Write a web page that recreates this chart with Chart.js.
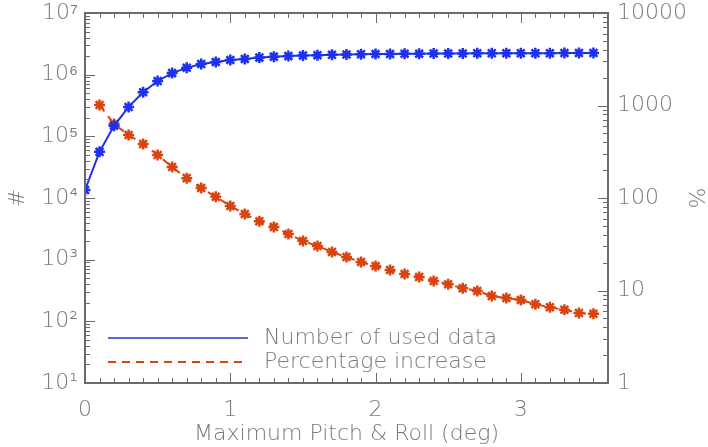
<!DOCTYPE html>
<html>
<head>
<meta charset="utf-8">
<script src="https://cdn.jsdelivr.net/npm/chart.js@4/dist/chart.umd.min.js"></script>
<style>
  body { margin: 0; background: #fff; }
</style>
</head>
<body>
<canvas id="myChart" width="708" height="447"></canvas>
<script>
// x-Werte (Maximum Pitch & Roll in deg)
const pitch = [0, 0.1, 0.2, 0.3, 0.4, 0.5, 0.6, 0.7, 0.8, 0.9, 1.0, 1.1, 1.2, 1.3, 1.4, 1.5, 1.6, 1.7,
  1.8, 1.9, 2.0, 2.1, 2.2, 2.3, 2.4, 2.5, 2.6, 2.7, 2.8, 2.9, 3.0, 3.1, 3.2, 3.3, 3.4, 3.5];
// Number of used data (linke Achse)
const usedData = [1.35e4, 5.6e4, 1.48e5, 3.0e5, 5.2e5, 7.9e5, 1.06e6, 1.29e6, 1.49e6, 1.61e6, 1.73e6,
  1.8e6, 1.89e6, 1.96e6, 2.0e6, 2.04e6, 2.07e6, 2.1e6, 2.12e6, 2.14e6, 2.16e6, 2.17e6, 2.18e6, 2.19e6,
  2.2e6, 2.21e6, 2.21e6, 2.22e6, 2.22e6, 2.22e6, 2.23e6, 2.23e6, 2.23e6, 2.24e6, 2.24e6, 2.24e6];
// Percentage increase (rechte Achse), ab 0.1
const pitchInc = pitch.slice(1);
const percentInc = [1010, 630, 480, 383, 292, 216, 164, 128, 103, 82, 67, 56, 48.5, 40.8, 34.3, 30.3,
  26.1, 23.0, 20.3, 18.4, 16.7, 15.1, 14.0, 12.7, 11.7, 10.6, 9.9, 8.7, 8.3, 7.9, 7.1, 6.6, 6.2, 5.7, 5.6];

const xTicks = [0, 1, 2, 3];
const leftTicks = [1e1, 1e2, 1e3, 1e4, 1e5, 1e6, 1e7];
const leftLabels = ["10¹", "10²", "10³", "10⁴", "10⁵", "10⁶", "10⁷"];
const rightTicks = [1, 10, 100, 1000, 10000];
const rightLabels = ["1", "10", "100", "1000", "10000"];

const blau = "#1c30ee";
const orange = "#d9430f";
const grau = "#7a7a7a";
const schrift = { family: "'DejaVu Sans', sans-serif", size: 22, weight: 200 };

// Rahmen und Striche nach innen (mit fillRect)
const rahmen = {
  id: "rahmen",
  afterDraw(chart) {
    const ctx = chart.ctx;
    const a = chart.chartArea;
    const sx = chart.scales.x, yl = chart.scales.yl, yr = chart.scales.yr;
    const L = Math.round(a.left), R = Math.round(a.right), T = Math.round(a.top), B = Math.round(a.bottom);
    ctx.save();
    ctx.globalAlpha = 1;
    ctx.globalCompositeOperation = "source-over";
    ctx.fillStyle = "#6a6a6a";
    for (let i = 0; i <= 36; i++) {
      const px = Math.round(sx.getPixelForValue(i / 10));
      const len = i % 10 == 0 ? 10 : 5;
      ctx.fillRect(px, B - len, 1, len);
      ctx.fillRect(px, T, 1, len);
    }
    for (let e = 1; e < 7; e++) {
      for (let m = 1; m < 10; m++) {
        const py = Math.round(yl.getPixelForValue(m * Math.pow(10, e)));
        const len = m == 1 ? 10 : 5;
        ctx.fillRect(L, py, len, 1);
      }
    }
    for (let e = 0; e < 4; e++) {
      for (let m = 1; m < 10; m++) {
        const py = Math.round(yr.getPixelForValue(m * Math.pow(10, e)));
        const len = m == 1 ? 10 : 5;
        ctx.fillRect(R - len, py, len, 1);
      }
    }
    ctx.fillRect(L - 1, T - 1, R - L + 2, 2);
    ctx.fillRect(L - 1, B - 1, R - L + 2, 2);
    ctx.fillRect(L - 1, T - 1, 2, B - T + 2);
    ctx.fillRect(R - 1, T - 1, 2, B - T + 2);

    // Legende
    ctx.fillStyle = "#5a6ad8";
    ctx.fillRect(108, 337, 140, 2);
    ctx.fillStyle = orange;
    for (let d = 108; d < 245; d += 14) ctx.fillRect(d, 361, 8, 2);
    ctx.fillStyle = grau;
    ctx.font = "200 22px 'DejaVu Sans', sans-serif";
    ctx.textBaseline = "middle";
    ctx.fillText("Number of used data", 264, 338);
    ctx.fillText("Percentage increase", 264, 362);
    ctx.restore();
  },
};

const lineChart = document.getElementById("myChart");
let myChart = new Chart(lineChart, {
  type: "line",
  data: {
    datasets: [
      {
        label: "Number of used data",
        data: pitch.map((p, i) => ({ x: p, y: usedData[i] })),
        yAxisID: "yl",
        borderColor: blau,
        backgroundColor: blau,
        borderWidth: 2,
        pointStyle: "star",
        pointRadius: 5.5,
        pointBorderWidth: 2.5,
        tension: 0,
      },
      {
        label: "Percentage increase",
        data: pitchInc.map((p, i) => ({ x: p, y: percentInc[i] })),
        yAxisID: "yr",
        borderColor: orange,
        backgroundColor: orange,
        borderWidth: 2,
        borderDash: [8, 6],
        pointStyle: "star",
        pointRadius: 5.5,
        pointBorderWidth: 2.5,
        tension: 0,
      },
    ],
  },
  options: {
    responsive: false,
    animation: false,
    devicePixelRatio: 1,
    layout: { padding: { top: 13, left: 0, right: 0, bottom: 0 } },
    plugins: { legend: { display: false }, tooltip: { enabled: false } },
    scales: {
      x: {
        type: "linear",
        min: 0,
        max: 3.6,
        grid: { display: false, drawTicks: false },
        border: { display: false },
        afterBuildTicks: (s) => { s.ticks = xTicks.map((v) => ({ value: v })); },
        afterFit: (s) => { s.height = 64; s.paddingLeft = 0; s.paddingRight = 0; },
        ticks: { color: grau, font: schrift, padding: 14, maxRotation: 0 },
        title: { display: true, text: "Maximum Pitch & Roll (deg)", color: grau, font: schrift, padding: 0 },
      },
      yl: {
        type: "logarithmic",
        position: "left",
        min: 10,
        max: 1e7,
        grid: { display: false, drawTicks: false },
        border: { display: false },
        afterBuildTicks: (s) => { s.ticks = leftTicks.map((v) => ({ value: v })); },
        afterFit: (s) => { s.width = 85; s.paddingTop = 0; s.paddingBottom = 0; },
        ticks: { color: grau, font: schrift, padding: 7, callback: (v) => leftLabels[leftTicks.indexOf(v)] },
        title: { display: true, text: "#", color: grau, font: schrift, padding: { top: 5, bottom: 0 } },
      },
      yr: {
        type: "logarithmic",
        position: "right",
        min: 1,
        max: 10000,
        grid: { display: false, drawTicks: false },
        border: { display: false },
        afterBuildTicks: (s) => { s.ticks = rightTicks.map((v) => ({ value: v })); },
        afterFit: (s) => { s.width = 100; s.paddingTop = 0; s.paddingBottom = 0; },
        ticks: { color: grau, font: schrift, padding: 9, callback: (v) => rightLabels[rightTicks.indexOf(v)] },
        title: { display: true, text: "%", color: grau, font: schrift, padding: 0 },
      },
    },
  },
  plugins: [rahmen],
});
</script>
</body>
</html>
